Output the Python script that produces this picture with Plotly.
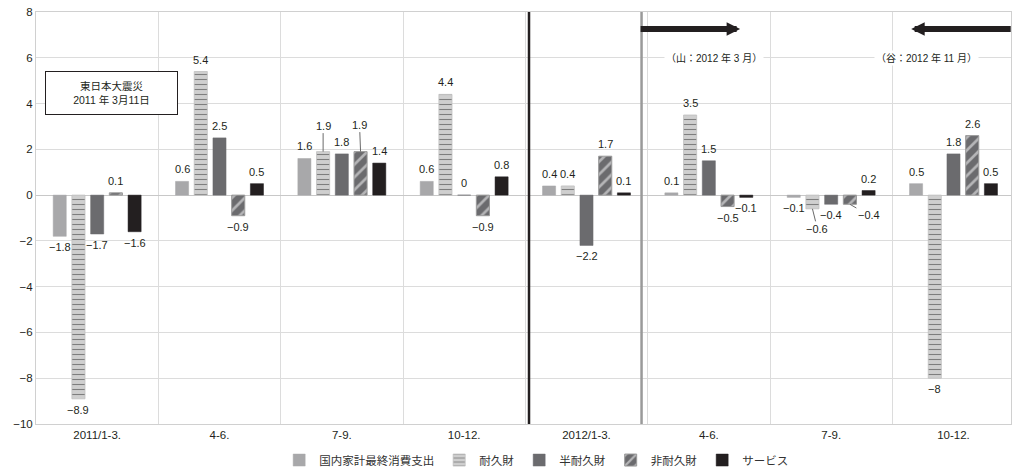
import plotly.graph_objects as go

# 四半期ラベル
quarters = ["2011/1-3.", "4-6.", "7-9.", "10-12.", "2012/1-3.", "4-6.", "7-9.", "10-12."]

# 前期比寄与 (%)
total = [-1.8, 0.6, 1.6, 0.6, 0.4, 0.1, -0.1, 0.5]
durable = [-8.9, 5.4, 1.9, 4.4, 0.4, 3.5, -0.6, -8.0]
semi_durable = [-1.7, 2.5, 1.8, 0.0, -2.2, 1.5, -0.4, 1.8]
non_durable = [0.1, -0.9, 1.9, -0.9, 1.7, -0.5, -0.4, 2.6]
services = [-1.6, 0.5, 1.4, 0.8, 0.1, -0.1, 0.2, 0.5]

series_names = ["国内家計最終消費支出", "耐久財", "半耐久財", "非耐久財", "サービス"]
series_values = [total, durable, semi_durable, non_durable, services]

FONT = "Liberation Sans, Noto Sans CJK JP, sans-serif"
INK = "#231f20"
BARGAP = 0.235
N = len(series_names)

styles = [
    dict(color="#a8a8aa", line=dict(color="#a8a8aa", width=0.5)),
    dict(color="#cfcfcf", line=dict(color="#c0c0c0", width=0.8),
         pattern=dict(shape="-", fgcolor="#2e2e2e", bgcolor="#cfcfcf", size=5, solidity=0.22)),
    dict(color="#6b6b6e", line=dict(color="#6b6b6e", width=0.5)),
    dict(color="#6b6b6e", line=dict(color="#9a9a9a", width=1),
         pattern=dict(shape="/", fgcolor="#ffffff", bgcolor="#6b6b6e", size=9, solidity=0.3)),
    dict(color=INK, line=dict(color=INK, width=0.5)),
]

fig = go.Figure()
xs = list(range(len(quarters)))
for name, vals, st in zip(series_names, series_values, styles):
    fig.add_trace(go.Bar(x=xs, y=vals, name=name, marker=st))


def fmt(v):
    s = f"{v:g}"
    return s.replace("-", "−")


# 引出線付きラベルの位置 (px)
leader = {
    (2, 1): (0, -26),
    (2, 3): (-1, -27),
    (6, 1): (5, 20),
    (6, 3): (19, 11),
}

slot = (1 - BARGAP) / N
for k, vals in enumerate(series_values):
    for i, v in enumerate(vals):
        bx = i + (k - (N - 1) / 2) * slot
        txt = fmt(v)
        if (i, k) in leader:
            dx, dy = leader[(i, k)]
            fig.add_annotation(x=bx, y=v, text=txt, showarrow=True, arrowhead=0,
                               arrowwidth=1, arrowcolor="#6a6a6a", ax=dx, ay=dy,
                               standoff=0, font=dict(size=11, color=INK, family=FONT))
        else:
            fig.add_annotation(x=bx, y=v, text=txt, showarrow=False,
                               yshift=12 if v >= 0 else -11,
                               font=dict(size=11, color=INK, family=FONT))

# 東日本大震災の注記
fig.add_annotation(x=0.117, y=4.46, text="東日本大震災<br>2011 年 3月11日", showarrow=False,
                   bordercolor=INK, borderwidth=1, bgcolor="white", borderpad=2,
                   width=127, height=38, font=dict(size=10.5, color=INK, family=FONT))

# 景気の山・谷
fig.add_annotation(x=5.04, y=6.0, text="（山：2012 年 3 月）", showarrow=False, bgcolor="white",
                   font=dict(size=10, color=INK, family=FONT))
fig.add_annotation(x=6.78, y=6.0, text="（谷：2012 年 11 月）", showarrow=False, bgcolor="white",
                   font=dict(size=10, color=INK, family=FONT))

for tip, tail in [(5.256, 4.43), (6.654, 7.48)]:
    fig.add_annotation(x=tip, y=7.26, ax=tail, ay=7.26, axref="x", ayref="y", text="",
                       showarrow=True, arrowhead=2, arrowsize=0.45, arrowwidth=6,
                       arrowcolor=INK, standoff=0, startstandoff=0)

fig.add_shape(type="line", xref="x", yref="paper", x0=3.53, x1=3.53, y0=0, y1=1,
              line=dict(color=INK, width=2.5))
fig.add_shape(type="line", xref="x", yref="paper", x0=4.45, x1=4.45, y0=0, y1=1,
              line=dict(color="#9a9a9a", width=2.5))

fig.update_layout(
    width=1013, height=469,
    margin=dict(l=36, r=2, t=12, b=45, autoexpand=False),
    paper_bgcolor="white", plot_bgcolor="white",
    barmode="group", bargap=BARGAP, bargroupgap=0.3,
    font=dict(family=FONT, color=INK, size=11),
    showlegend=True,
    legend=dict(orientation="h", x=0.513, xanchor="center", yref="container",
                y=0.05, yanchor="top", font=dict(size=11.5, color="#333"),
                itemwidth=30, traceorder="normal"),
)
fig.update_xaxes(
    range=[-0.5, 7.47], tickvals=xs, ticktext=quarters, showgrid=False,
    showline=True, linecolor="#d0d0d0", mirror=True, ticks="", ticklen=0,
    tickfont=dict(size=11.5, color=INK),
    minor=dict(tickvals=[i + 0.5 for i in range(len(quarters) - 1)], showgrid=True,
               gridcolor="#dcdcdc", gridwidth=1, ticks=""),
)
fig.update_yaxes(
    range=[-10, 8], dtick=2, showgrid=True, gridcolor="#dcdcdc", gridwidth=1,
    zeroline=True, zerolinecolor="#c8c8c8", zerolinewidth=1,
    showline=True, linecolor="#d0d0d0", mirror=True, ticks="",
    tickfont=dict(size=11.5, color=INK),
)

fig.write_html("out.html")
